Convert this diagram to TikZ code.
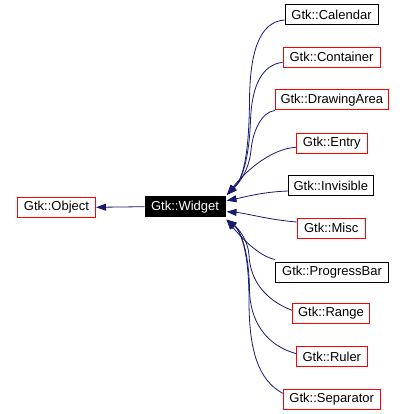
\documentclass[tikz,border=0pt]{standalone}
\usepackage{fontspec}
\setmainfont{Liberation Sans}
\usetikzlibrary{arrows.meta,calc}
\definecolor{edgeblue}{HTML}{191970}
\begin{document}
\begin{tikzpicture}[x=1pt,y=-1pt,
  box/.style={draw=black,line width=1pt,fill=white,inner sep=0pt,minimum height=20pt,font=\fontsize{13}{14}\selectfont,text=black},
  redbox/.style={box,draw=red},
  wbox/.style={box,fill=black,text=white},
  edge/.style={draw=edgeblue,line width=0.8pt,-{Triangle[length=10pt,width=7pt]}}
]
\useasboundingbox (0,0) rectangle (404,414);
\fill[white] (0,0) rectangle (404,414);
\node[redbox,minimum width=78pt] (obj) at (56.5,207.3) {Gtk::Object};
\node[wbox,minimum width=80pt] (w) at (185,206.7) {Gtk::Widget};
\node[box,minimum width=93pt] (cal) at (331.5,15) {Gtk::Calendar};
\node[redbox,minimum width=97pt] (con) at (331.5,57.3) {Gtk::Container};
\node[redbox,minimum width=113pt] (dra) at (331.8,100) {Gtk::DrawingArea};
\node[redbox,minimum width=71pt] (ent) at (331.8,143.3) {Gtk::Entry};
\node[box,minimum width=85pt] (inv) at (330.8,185.5) {Gtk::Invisible};
\node[redbox,minimum width=68pt] (mis) at (331.2,228) {Gtk::Misc};
\node[box,minimum width=113pt] (pro) at (332,272) {Gtk::ProgressBar};
\node[redbox,minimum width=77pt] (ran) at (331,313.3) {Gtk::Range};
\node[redbox,minimum width=71pt] (rul) at (331.8,356.5) {Gtk::Ruler};
\node[redbox,minimum width=97pt] (sep) at (331.7,399.3) {Gtk::Separator};
\coordinate (ttop) at ($(w.north east)+(1.5,-1.5)$);
\coordinate (tinv) at ($(w.east)+(1,-6)$);
\coordinate (tmis) at ($(w.east)+(1,5)$);
\coordinate (tbot) at ($(w.south east)+(1,2.5)$);
\draw[edge] (w.west) -- (obj.east);
\draw[edge] ($(cal.west)+(0,5)$) .. controls (258,22) and (250,55) .. (249.5,100) .. controls (249,160) and (242,180) .. (ttop);
\draw[edge] ($(con.west)+(0,5)$) .. controls (262,65) and (252,85) .. (250.5,120) .. controls (249,160) and (242,180) .. (ttop);
\draw[edge] (dra.south west) .. controls (262,112) and (253,130) .. (251,150) .. controls (249,170) and (240,182) .. (ttop);
\draw[edge] ($(ent.west)+(0,4)$) .. controls (270,149) and (245,172) .. (ttop);
\draw[edge] ($(inv.west)+(0,5.5)$) .. controls (262,192) and (245,197) .. (tinv);
\draw[edge] ($(mis.west)+(0,-6)$) .. controls (270,220) and (245,213) .. (tmis);
\draw[edge] ($(pro.north west)+(0,-2)$) .. controls (258,256) and (240,236) .. (tbot);
\draw[edge] ($(ran.west)+(0,-3)$) .. controls (265,300) and (250,280) .. (249,255) .. controls (248,240) and (238,228) .. (tbot);
\draw[edge] ($(rul.west)+(0,-3)$) .. controls (265,345) and (250,320) .. (249.5,290) .. controls (249,250) and (240,230) .. (tbot);
\draw[edge] ($(sep.west)+(0,-6)$) .. controls (258,380) and (249,350) .. (249,300) .. controls (249,250) and (240,230) .. (tbot);
\end{tikzpicture}
\end{document}
